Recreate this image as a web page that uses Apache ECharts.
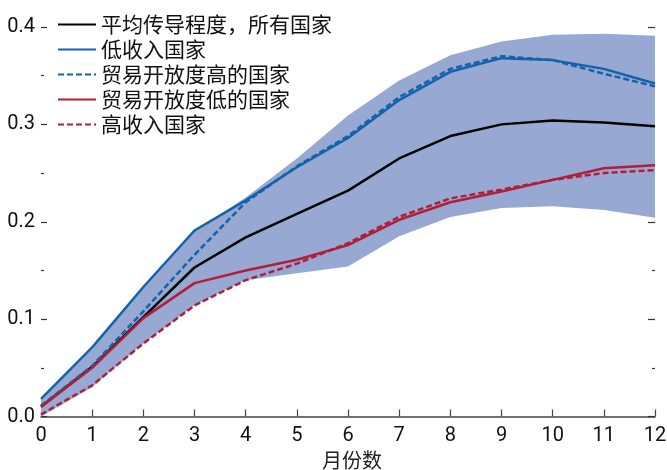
<!DOCTYPE html>
<html>
<head>
<meta charset="utf-8">
<script src="https://cdn.jsdelivr.net/npm/echarts@6/dist/echarts.min.js"></script>
<style>
  html, body { margin: 0; padding: 0; background: #fff; }
  #chart { width: 667px; height: 470px; }
</style>
</head>
<body>
<div id="chart"></div>
<script>
// Months after the shock
const months = ['0', '1', '2', '3', '4', '5', '6', '7', '8', '9', '10', '11', '12'];

// Range band across countries
const bandLower = [0.000, 0.030, 0.075, 0.114, 0.140, 0.147, 0.154, 0.185, 0.205, 0.214, 0.216, 0.212, 0.204];
const bandUpper = [0.018, 0.069, 0.134, 0.190, 0.225, 0.265, 0.309, 0.345, 0.371, 0.385, 0.392, 0.393, 0.391];

// Pass-through paths
const avgAll      = [0.010, 0.051, 0.102, 0.153, 0.184, 0.208, 0.232, 0.265, 0.288, 0.300, 0.304, 0.302, 0.298];
const lowIncome   = [0.018, 0.071, 0.133, 0.191, 0.222, 0.256, 0.286, 0.325, 0.354, 0.368, 0.366, 0.357, 0.342];
const highOpen    = [0.011, 0.052, 0.108, 0.166, 0.220, 0.257, 0.288, 0.328, 0.357, 0.370, 0.366, 0.352, 0.339];
const lowOpen     = [0.010, 0.050, 0.101, 0.137, 0.150, 0.161, 0.176, 0.202, 0.220, 0.231, 0.243, 0.255, 0.258];
const highIncome  = [0.002, 0.032, 0.075, 0.114, 0.140, 0.157, 0.178, 0.205, 0.224, 0.233, 0.243, 0.250, 0.253];

const seriesNames = ['平均传导程度，所有国家', '低收入国家', '贸易开放度高的国家', '贸易开放度低的国家', '高收入国家'];
const xTitle = '月份数';

const BLUE = '#1462aa';
const RED = '#b01f3a';
const BAND = '#97a8d2';
const NUM_FONT = 'Roboto, "Liberation Sans", sans-serif';
const CJK_FONT = '"Noto Sans CJK SC", sans-serif';

function lineSeries(name, data, color, dashed) {
  return {
    name: name,
    type: 'line',
    data: data,
    symbol: 'none',
    showSymbol: false,
    z: 5,
    lineStyle: { color: color, width: 2.5, type: dashed ? [6, 3] : 'solid' },
    itemStyle: { color: color }
  };
}

const chart = echarts.init(document.getElementById('chart'), null, { renderer: 'canvas' });

chart.setOption({
  animation: false,
  backgroundColor: '#fff',
  grid: { left: 41, right: 12, top: 27, bottom: 53.5, containLabel: false, outerBoundsMode: 'none' },
  legend: {
    data: seriesNames,
    orient: 'vertical',
    left: 57,
    top: 14,
    padding: 0,
    itemWidth: 38,
    itemHeight: 14,
    itemGap: 4,
    itemStyle: { opacity: 0 },
    textStyle: { fontFamily: CJK_FONT, fontSize: 21, color: '#111', lineHeight: 21 }
  },
  xAxis: {
    type: 'category',
    data: months,
    boundaryGap: false,
    name: xTitle,
    nameLocation: 'middle',
    nameGap: 33,
    nameTextStyle: { fontFamily: CJK_FONT, fontSize: 20, color: '#222', padding: [0, 0, 0, 8] },
    axisLine: { show: true, lineStyle: { color: '#444', width: 1.5 } },
    axisTick: { show: true, inside: true, length: 7, interval: 0, lineStyle: { color: '#444', width: 1.2 } },
    axisLabel: { fontFamily: NUM_FONT, fontSize: 20, color: '#111', margin: 9, interval: 0 },
    splitLine: { show: false }
  },
  yAxis: [
    {
      type: 'value',
      min: 0,
      max: 0.4,
      interval: 0.1,
      position: 'left',
      axisLine: { show: false },
      axisTick: { show: true, inside: true, length: 6, lineStyle: { color: '#333', width: 1.2 } },
      minorTick: { show: true, splitNumber: 2, length: 3, lineStyle: { color: '#333', width: 1.2 } },
      axisLabel: {
        fontFamily: NUM_FONT, fontSize: 20, color: '#111', margin: 6,
        formatter: v => v.toFixed(1)
      },
      splitLine: { show: false }
    },
    {
      type: 'value',
      min: 0,
      max: 0.4,
      interval: 0.1,
      position: 'right',
      axisLine: { show: false },
      axisTick: { show: true, inside: true, length: 7, lineStyle: { color: '#333', width: 1.2 } },
      minorTick: { show: true, splitNumber: 2, length: 3, lineStyle: { color: '#333', width: 1.2 } },
      axisLabel: { show: false },
      splitLine: { show: false }
    }
  ],
  series: [
    {
      name: 'bandBase',
      type: 'line',
      stack: 'band',
      data: bandLower,
      symbol: 'none',
      lineStyle: { opacity: 0 },
      silent: true,
      z: 1
    },
    {
      name: 'bandWidth',
      type: 'line',
      stack: 'band',
      data: bandUpper.map((v, i) => +(v - bandLower[i]).toFixed(4)),
      symbol: 'none',
      lineStyle: { opacity: 0 },
      areaStyle: { color: BAND, opacity: 1 },
      silent: true,
      z: 1
    },
    lineSeries(seriesNames[0], avgAll, '#000', false),
    lineSeries(seriesNames[1], lowIncome, BLUE, false),
    lineSeries(seriesNames[2], highOpen, BLUE, true),
    lineSeries(seriesNames[3], lowOpen, RED, false),
    lineSeries(seriesNames[4], highIncome, RED, true)
  ]
});
</script>
</body>
</html>
